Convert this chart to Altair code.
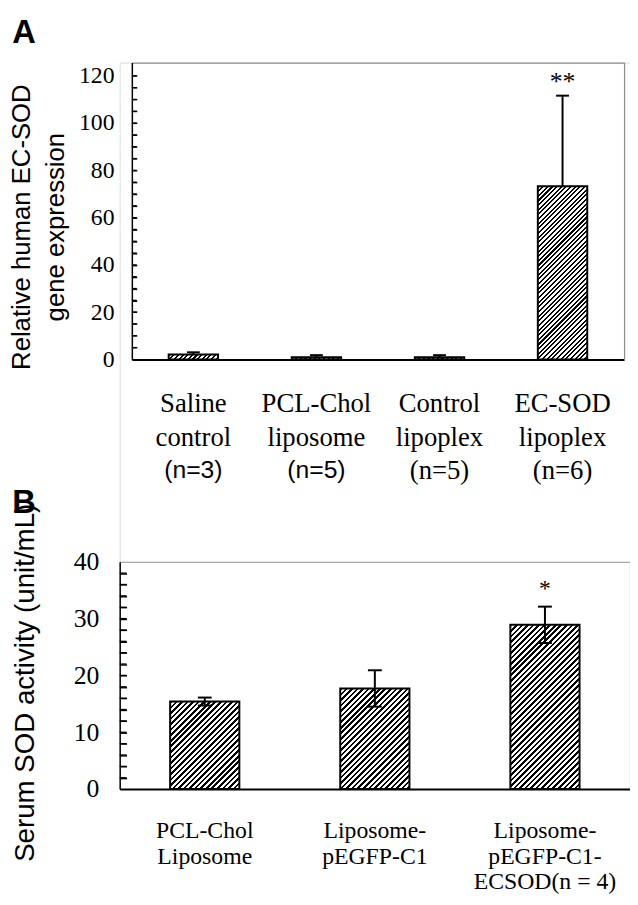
import altair as alt
import pandas as pd

SERIF = "Liberation Serif"
SANS = "Liberation Sans"

# ---------------- Panel A data ----------------
a_line1 = ["Saline", "PCL-Chol", "Control", "EC-SOD"]
a_line2 = ["control", "liposome", "lipoplex", "lipoplex"]
a_line3 = ["(n=3)", "(n=5)", "(n=5)", "(n=6)"]
a_line3_sans = [True, True, False, False]
a_mean = [2.1, 0.9, 0.9, 73.3]
a_err = [0.9, 0.9, 0.9, 38.3]
a_sig = ["", "", "", "**"]
a_label_ticks = [0, 20, 40, 60, 80, 100, 120]
a_minor_ticks = [5, 10, 15, 20, 25, 30, 35, 40, 45, 50, 55, 60, 65, 70,
                 75, 80, 85, 90, 95, 100, 105, 110, 115, 120]
a_ymax = 125.6

# ---------------- Panel B data ----------------
b_line1 = ["PCL-Chol", "Liposome-", "Liposome-"]
b_line2 = ["Liposome", "pEGFP-C1", "pEGFP-C1-"]
b_line3 = ["", "", "ECSOD(n = 4)"]
b_line3_sans = [False, False, False]
b_mean = [15.4, 17.7, 28.9]
b_err = [0.7, 3.2, 3.2]
b_sig = ["", "", "*"]
b_label_ticks = [0, 10, 20, 30, 40]
b_minor_ticks = [2, 4, 6, 8, 10, 12, 14, 16, 18, 20, 22, 24, 26, 28,
                 30, 32, 34, 36, 38]
b_ymax = 40

# ---------------- layout (page pixels) ----------------
GX, GY = 120.7, 58.0          # page position of the drawing group origin
W = 637.0 - GX                 # group width
H = 793.0 - GY                 # group height


def gx(px):
    return px - GX


def gy(py):
    return py - GY


A_LEFT, A_RIGHT, A_TOP, A_BOTTOM = 133.0, 631.0, 58.0, 358.3
B_LEFT, B_RIGHT, B_TOP, B_BOTTOM = 120.7, 637.0, 563.0, 793.0
FRAME = "#8e8e8e"


def hatch(w, h, period, dark):
    """Linear gradient with hard stops -> 45 degree '/' hatching in a w x h box."""
    s_total = float(w + h)
    k = s_total / (w * w + h * h)
    stops = []
    i = 0
    while i * period < s_total:
        t0 = i * period / s_total
        t1 = min((i * period + dark) / s_total, 1.0)
        t2 = min((i + 1) * period / s_total, 1.0)
        stops += [
            {"offset": t0, "color": "black"},
            {"offset": t1, "color": "black"},
            {"offset": t1, "color": "white"},
            {"offset": t2, "color": "white"},
        ]
        i += 1
    return {"gradient": "linear", "x1": 0, "y1": 0, "x2": k * w, "y2": k * h,
            "stops": stops}


def panel_layers(line1, line2, line3, line3_sans, mean, err, sig, label_ticks,
                 minor_ticks, ymax, left, right, top, bottom, barw, period, dark,
                 two_sided, ytitle, tfont, title_x, title_y, title_lh, ylab_size,
                 ylab_pad, xlab_size, xlab_lh, xlab_pad, sans_size, cap_w,
                 sig_size, sig_dy, tick_len):
    keys = ["\n".join([a, b, c]) for a, b, c in zip(line1, line2, line3)]
    lo = [m - e if two_sided else m for m, e in zip(mean, err)]
    hi = [m + e for m, e in zip(mean, err)]
    df = pd.DataFrame({"key": keys, "mean": mean, "lo": lo, "hi": hi, "sig": sig})
    sans_keys = [k for k, s in zip(keys, line3_sans) if s]
    sans_test = " || ".join(
        "replace(datum.label, /\\n/g, ' ') == %r" % k.replace("\n", " ")
        for k in sans_keys) or "false"
    # labels of the first axis: third line left out where it is drawn in sans
    main_expr = ("(%s) ? slice(split(datum.label, '\\n'), 0, 2) : "
                 "split(datum.label, '\\n')") % sans_test
    sans_expr = "(%s) ? split(datum.label, '\\n')[2] : ''" % sans_test

    xs = alt.Scale(domain=keys, range=[gx(left), gx(right)],
                   paddingInner=0, paddingOuter=0)
    ys = alt.Scale(domain=[0, ymax], range=[gy(bottom), gy(top)],
                   nice=False, zero=False)
    plot_h = gy(bottom) - gy(top)

    ax_x_main = alt.Axis(orient="bottom", offset=gy(bottom) - H, title=None,
                         labelAngle=0, ticks=False, grid=False,
                         labelExpr=main_expr,
                         labelFont=SERIF, labelFontSize=xlab_size,
                         labelLineHeight=xlab_lh, labelPadding=xlab_pad,
                         labelColor="black", labelLimit=0,
                         domainColor="black", domainWidth=2)
    ax_x_sans = alt.Axis(orient="bottom", offset=gy(bottom) - H, title=None,
                         labelAngle=0, ticks=False, grid=False, domain=False,
                         labelExpr=sans_expr, labelFont=SANS,
                         labelFontSize=sans_size, labelBaseline="middle",
                         labelPadding=xlab_pad + 2 * xlab_lh + 0.3 * xlab_size + 3,
                         labelColor="black", labelLimit=0)
    ax_y_main = alt.Axis(orient="left", offset=-gx(left), values=label_ticks,
                         ticks=False, grid=False,
                         labelFont=SERIF, labelFontSize=ylab_size,
                         labelPadding=ylab_pad, labelColor="black",
                         domainColor="black", domainWidth=1.5,
                         title=ytitle, titleFont=SANS, titleFontSize=tfont,
                         titleFontWeight="normal", titleColor="black",
                         titleX=title_x, titleY=title_y, titleAngle=270,
                         titleAlign="center", titleBaseline="middle",
                         titleLineHeight=title_lh)
    ax_y_ticks = alt.Axis(orient="left", offset=-(gx(left) + tick_len),
                          values=minor_ticks, ticks=True, tickSize=tick_len,
                          tickColor="black", tickWidth=1.4, labels=False,
                          domain=False, grid=False, title=None)
    ax_x_top = alt.Axis(orient="top", offset=-gy(top), ticks=False,
                        labels=False, grid=False, title=None,
                        domainColor=FRAME, domainWidth=1.2)
    ax_y_right = alt.Axis(orient="right", offset=gx(right) - W, ticks=False,
                          labels=False, grid=False, title=None,
                          domainColor=FRAME, domainWidth=1.2)

    layers = []
    for i, (k, m) in enumerate(zip(keys, mean)):
        h = m / ymax * plot_h
        xa = ax_x_main if i == 0 else None
        ya = ax_y_main if i == 0 else None
        layers.append(
            alt.Chart(df).transform_filter(alt.datum.key == k)
            .mark_bar(size=barw, fill=hatch(barw, h, period, dark),
                      stroke="black", strokeWidth=2)
            .encode(x=alt.X("key:N", scale=xs, axis=xa, sort=keys),
                    y=alt.Y("mean:Q", scale=ys, axis=ya))
        )

    # error bar stem (also carries the top frame line and the inward ticks)
    layers.append(
        alt.Chart(df).mark_rule(color="black", strokeWidth=2).encode(
            x=alt.X("key:N", scale=xs, axis=ax_x_top, sort=keys),
            y=alt.Y("lo:Q", scale=ys, axis=ax_y_ticks), y2="hi:Q"))
    # upper caps (also carry the right frame line and the sans labels)
    layers.append(
        alt.Chart(df).mark_tick(color="black", size=cap_w, thickness=2,
                                opacity=1).encode(
            x=alt.X("key:N", scale=xs,
                    axis=ax_x_sans if sans_keys else None, sort=keys),
            y=alt.Y("hi:Q", scale=ys, axis=ax_y_right)))
    if two_sided:
        layers.append(
            alt.Chart(df).mark_tick(color="black", size=cap_w, thickness=2,
                                    opacity=1).encode(
                x=alt.X("key:N", scale=xs, axis=None, sort=keys),
                y=alt.Y("lo:Q", scale=ys, axis=None)))

    layers.append(
        alt.Chart(df).transform_filter(alt.datum.sig != "").mark_text(
            font=SERIF, fontSize=sig_size, baseline="alphabetic", dy=sig_dy,
            color="black").encode(
            x=alt.X("key:N", scale=xs, axis=None, sort=keys),
            y=alt.Y("hi:Q", scale=ys, axis=None), text="sig:N"))

    # inward pointing minor ticks, drawn as short rules through own x scale
    tdf = pd.DataFrame({"t": minor_ticks, "s0": 0.0, "s1": 1.0})
    layers.append(
        alt.Chart(tdf).mark_rule(color="black", strokeWidth=1.3).encode(
            x=alt.X("s0:Q", scale=alt.Scale(domain=[0, 1],
                                             range=[gx(left), gx(left) + tick_len]),
                    axis=None),
            x2="s1:Q",
            y=alt.Y("t:Q", scale=ys, axis=None)))
    return layers


layers_a = panel_layers(
    a_line1, a_line2, a_line3, a_line3_sans, a_mean, a_err, a_sig,
    a_label_ticks, a_minor_ticks,
    a_ymax, A_LEFT, A_RIGHT, A_TOP, A_BOTTOM, 50, 4.7, 2.1, False,
    ["Relative  human EC-SOD", "gene expression"], 26,
    21 - A_LEFT, 224 - A_TOP, 35, 24, 18,
    27, 34, 32, 25, 13, 26, -6, 5)

layers_b = panel_layers(
    b_line1, b_line2, b_line3, b_line3_sans, b_mean, b_err, b_sig,
    b_label_ticks, b_minor_ticks,
    b_ymax, B_LEFT, B_RIGHT, B_TOP, B_BOTTOM, 70, 5.6, 2.6, True,
    "Serum SOD activity (unit/mL)", 28,
    25.5 - B_LEFT, 685 - GY, 30, 26, 21,
    24, 26, 30, 24, 14, 24, -11, 7)


def letter_layer(letter, px, py):
    return alt.Chart(pd.DataFrame({"letter": [letter]})).mark_text(
        font=SANS, fontSize=33, fontWeight="bold", align="left",
        baseline="top", color="black").encode(
        text="letter:N", x=alt.value(gx(px)), y=alt.value(gy(py)))


anchor = alt.Chart(pd.DataFrame({"a": [" "]})).mark_text(
    font=SANS, fontSize=10, align="left", baseline="top").encode(
    text="a:N", x=alt.value(gx(8)), y=alt.value(gy(8)))

chart = alt.layer(*layers_a, *layers_b,
                  letter_layer("A", 12, 12.6), letter_layer("B", 12, 487.6),
                  anchor).resolve_scale(
    x="independent", y="independent").resolve_axis(
    x="independent", y="independent").properties(
    width=W, height=H, padding=0).configure_view(
    stroke="transparent", strokeWidth=0).configure(
    background="white")

chart.save("out.html", embed_options={"renderer": "svg", "actions": False})
